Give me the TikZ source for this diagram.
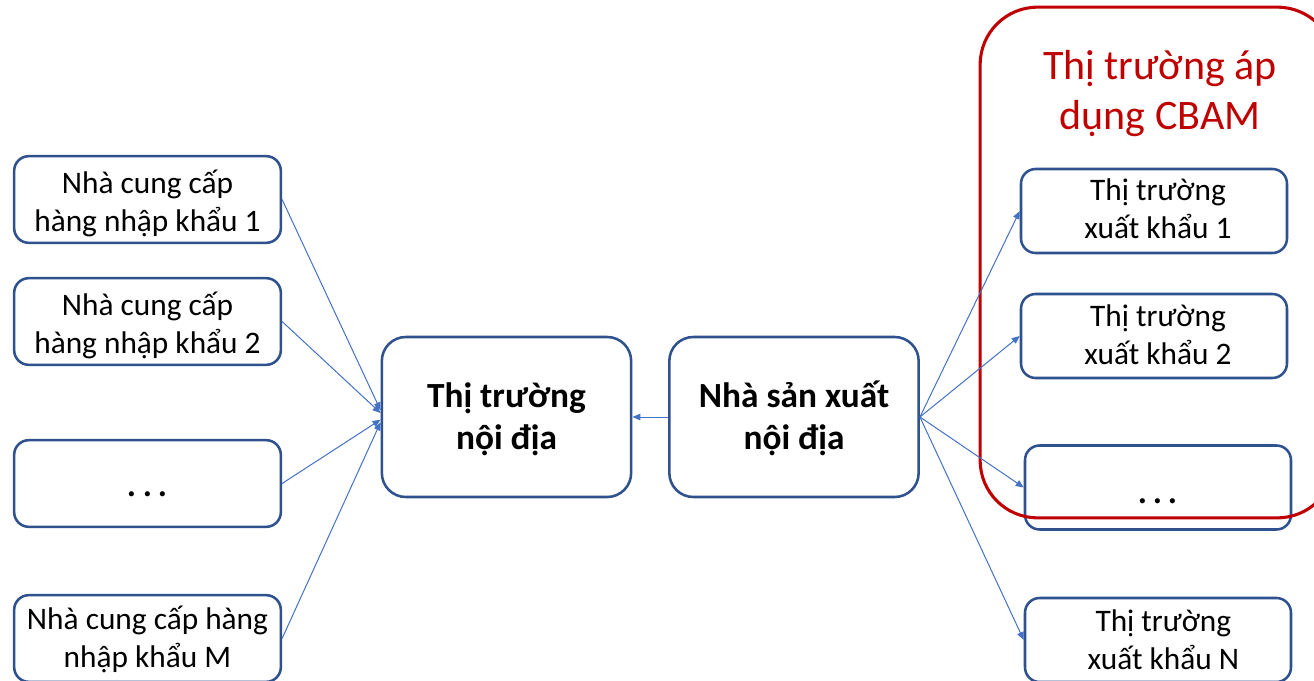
\documentclass[tikz,border=0pt]{standalone}
\usepackage{fontspec}
\setmainfont{Carlito}
\usetikzlibrary{arrows.meta}
\definecolor{boxblue}{HTML}{2F528F}
\definecolor{arrblue}{HTML}{4472C4}
\definecolor{cbamred}{HTML}{C00000}
\newcommand\lowertext[2]{\raisebox{-#1}[\height][\depth]{\begin{tabular}{@{}c@{}}#2\end{tabular}}}
\newcommand\mydots[1]{\raisebox{-#1}[0pt][0pt]{\fontsize{32}{38}\selectfont .\kern3.5pt.\kern3.5pt.}}
\begin{document}
\begin{tikzpicture}[x=0.75pt,y=-0.75pt,
  sbox/.style={draw=boxblue, line width=1.9pt, rounded corners=11pt, fill=white,
    minimum width=200pt, minimum height=65pt, align=center, inner sep=0pt,
    font=\fontsize{23.5}{28.5}\selectfont},
  rbox/.style={sbox, minimum width=199.5pt, minimum height=63pt},
  cbox/.style={draw=boxblue, line width=1.9pt, rounded corners=18pt, fill=white,
    minimum width=187pt, minimum height=120pt, align=center, inner sep=0pt,
    font=\fontsize{26.5}{31.5}\selectfont\bfseries},
  arr/.style={draw=arrblue, line width=0.75pt, -{Triangle[length=6pt,width=5pt]}},
  redbox/.style={draw=cbamred, line width=2.3pt, rounded corners=43pt,
    minimum width=266pt, minimum height=383pt, inner sep=0pt},
  redtitle/.style={text=cbamred, align=center, inner sep=0pt,
    font=\fontsize{31.5}{37.5}\selectfont}
]
\useasboundingbox (0,0) rectangle (1314,681);
\clip (0,0) rectangle (1314,681);
\fill[white] (0,0) rectangle (1314,681);

% left supplier boxes
\node[sbox] (L1) at (147.5,199.5) {\lowertext{4pt}{Nhà cung cấp\\hàng nhập khẩu 1}};
\node[sbox] (L2) at (147.5,321.5) {\lowertext{4pt}{Nhà cung cấp\\hàng nhập khẩu 2}};
\node[sbox] (L3) at (147.5,483.5) {\mydots{10pt}};
\node[sbox] (LM) at (147.5,638.5) {\lowertext{2pt}{Nhà cung cấp hàng\\nhập khẩu M}};

% central boxes
\node[cbox] (C1) at (506.5,417) {\lowertext{2pt}{Thị trường\\nội địa}};
\node[cbox] (C2) at (794,417) {\lowertext{2pt}{Nhà sản xuất\\nội địa}};

% right export boxes
\node[rbox] (R1) at (1154,211) {\hspace*{6pt}\lowertext{0.5pt}{Thị trường\\xuất khẩu 1}};
\node[rbox] (R2) at (1154,336) {\hspace*{6pt}\lowertext{1.5pt}{Thị trường\\xuất khẩu 2}};
\node[rbox] (R3) at (1158,487.5) {\mydots{12pt}};
\node[rbox] (RN) at (1158,640) {\hspace*{8pt}\lowertext{2.5pt}{Thị trường\\xuất khẩu N}};

% CBAM region
\node[redbox] (cbam) at (1157.5,262.5) {};
\node[redtitle] (cbamt) at (1160,93.5) {Thị trường áp\\dụng CBAM};

% connectors
\draw[arr] (L1.east) -- ([yshift=5pt]C1.west);
\draw[arr] (L2.east) -- ([yshift=3pt]C1.west);
\draw[arr] (L3.east) -- ([yshift=-2pt]C1.west);
\draw[arr] (LM.east) -- ([yshift=-4pt]C1.west);
\draw[arr] (C2.west) -- (C1.east);
\draw[arr] (C2.east) -- (R1.west);
\draw[arr] (C2.east) -- (R2.west);
\draw[arr] (C2.east) -- (R3.west);
\draw[arr] (C2.east) -- (RN.west);
\end{tikzpicture}
\end{document}
